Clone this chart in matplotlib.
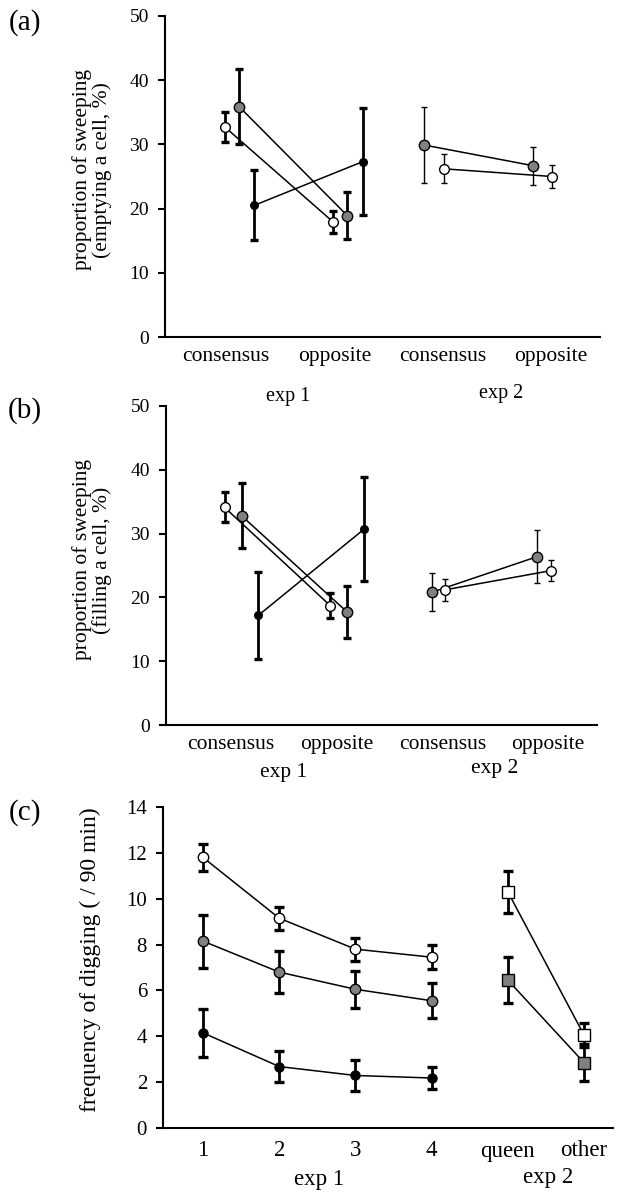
import matplotlib
matplotlib.use("Agg")
import matplotlib.pyplot as plt
import numpy as np

plt.rcParams['font.family'] = ['Liberation Serif', 'DejaVu Serif']

W, H = 618, 1193
DPI = 100

# ---------------- data ----------------
cats_ab = ["consensus", "opposite", "consensus", "opposite"]

# panel (a): emptying a cell
a_white_exp1 = [32.7, 17.9]; a_white_exp1_err = [2.3, 1.75]
a_gray_exp1 = [35.9, 18.9];  a_gray_exp1_err = [5.85, 3.65]
a_black_exp1 = [20.5, 27.3]; a_black_exp1_err = [5.45, 8.35]
a_gray_exp2 = [29.9, 26.7];  a_gray_exp2_err = [5.85, 2.95]
a_white_exp2 = [26.2, 25.0]; a_white_exp2_err = [2.25, 1.75]

# panel (b): filling a cell
b_white_exp1 = [34.1, 18.7]; b_white_exp1_err = [2.35, 1.95]
b_gray_exp1 = [32.8, 17.7];  b_gray_exp1_err = [5.1, 4.05]
b_black_exp1 = [17.2, 30.7]; b_black_exp1_err = [6.85, 8.2]
b_gray_exp2 = [20.8, 26.4];  b_gray_exp2_err = [3.0, 4.15]
b_white_exp2 = [21.2, 24.2]; b_white_exp2_err = [1.75, 1.65]

# panel (c): digging frequency
cats_c = ["1", "2", "3", "4", "queen", "other"]
c_white = [11.8, 9.15, 7.8, 7.45];  c_white_err = [0.6, 0.5, 0.5, 0.53]
c_gray = [8.15, 6.8, 6.05, 5.55];   c_gray_err = [1.16, 0.92, 0.81, 0.77]
c_black = [4.15, 2.68, 2.29, 2.18]; c_black_err = [1.05, 0.69, 0.69, 0.48]
c_sq_white = [10.3, 4.05]; c_sq_white_err = [0.93, 0.53]
c_sq_gray = [6.45, 2.85];  c_sq_gray_err = [1.0, 0.8]

GRAY = "#808080"

fig = plt.figure(figsize=(W / DPI, H / DPI), dpi=DPI)


def px_axes(x0, x1, ytop, ybot):
    return fig.add_axes([x0 / W, 1 - ybot / H, (x1 - x0) / W, (ybot - ytop) / H])


def ftext(x, y, s, **kw):
    fig.text(x / W, 1 - y / H, s, **kw)


def style(ax, ylim, yticks, ytick_fs, xtick_fs, xpad):
    for s in ["top", "right"]:
        ax.spines[s].set_visible(False)
    for s in ["left", "bottom"]:
        ax.spines[s].set_linewidth(1.5)
    ax.set_ylim(*ylim)
    ax.set_yticks(yticks)
    ax.tick_params(axis="y", direction="out", length=5, width=1.5, pad=6.5,
                   labelsize=ytick_fs)
    ax.tick_params(axis="x", length=0, pad=xpad, labelsize=xtick_fs)


def series(ax, x, y, err, face, ms, marker="o", elw=2.0, cs=2.6, ct=2.4):
    ax.plot(x, y, color="black", lw=1.1, zorder=2)
    ax.errorbar(x, y, yerr=err, fmt="none", ecolor="black", elinewidth=elw,
                capsize=cs, capthick=ct, zorder=3)
    ax.plot(x, y, linestyle="none", marker=marker, ms=ms, mfc=face,
            mec="black", mew=1.0, zorder=4)


# ---------------- panel (a) ----------------
axa = px_axes(165, 600, 16, 337)
pos = np.arange(1, 5)
style(axa, (0, 50), range(0, 51, 10), 14, 15.5, 7)
axa.set_xlim(0.437, 4.452)
axa.set_xticks(pos)
axa.set_xticklabels(cats_ab)
e1 = pos[:2]; e2 = pos[2:]
series(axa, e1 - 0.01, a_white_exp1, a_white_exp1_err, "white", 7)
series(axa, e1 + 0.12, a_gray_exp1, a_gray_exp1_err, GRAY, 7.5)
series(axa, e1 + 0.26, a_black_exp1, a_black_exp1_err, "black", 5.5)
series(axa, e2 - 0.17, a_gray_exp2, a_gray_exp2_err, GRAY, 7.5, elw=1.0, cs=2.2, ct=1.0)
series(axa, e2 + 0.01, a_white_exp2, a_white_exp2_err, "white", 7, elw=1.0, cs=2.2, ct=1.0)

# ---------------- panel (b) ----------------
axb = px_axes(166, 597, 406, 725)
style(axb, (0, 50), range(0, 51, 10), 14, 15.5, 7)
axb.set_xlim(0.385, 4.464)
axb.set_xticks(pos)
axb.set_xticklabels(cats_ab)
series(axb, e1 - 0.06, b_white_exp1, b_white_exp1_err, "white", 7)
series(axb, e1 + 0.10, b_gray_exp1, b_gray_exp1_err, GRAY, 7.5)
series(axb, e1 + 0.26, b_black_exp1, b_black_exp1_err, "black", 5.5)
series(axb, e2 - 0.10, b_gray_exp2, b_gray_exp2_err, GRAY, 7.5, elw=1.0, cs=2.2, ct=1.0)
series(axb, e2 + 0.03, b_white_exp2, b_white_exp2_err, "white", 7, elw=1.0, cs=2.2, ct=1.0)

# ---------------- panel (c) ----------------
axc = px_axes(163, 613, 807, 1128)
posc = np.arange(1, 7)
style(axc, (0, 14), range(0, 15, 2), 15, 16.5, 9)
axc.set_xlim(0.475, 6.38)
axc.set_xticks(posc)
axc.set_xticklabels(cats_c)
xe1 = posc[:4]; xe2 = posc[4:]
series(axc, xe1, c_white, c_white_err, "white", 7.5, elw=2.0, cs=3.4, ct=2.4)
series(axc, xe1, c_gray, c_gray_err, GRAY, 7.5, elw=2.0, cs=3.4, ct=2.4)
series(axc, xe1, c_black, c_black_err, "black", 6.5, elw=2.0, cs=3.4, ct=2.4)
series(axc, xe2, c_sq_white, c_sq_white_err, "white", 8, marker="s", elw=2.0, cs=3.4, ct=2.4)
series(axc, xe2, c_sq_gray, c_sq_gray_err, GRAY, 8, marker="s", elw=2.0, cs=3.4, ct=2.4)

# ---------------- texts ----------------
ftext(25, 23, "(a)", fontsize=21, ha="center", va="center")
ftext(25, 411, "(b)", fontsize=21, ha="center", va="center")
ftext(25, 813, "(c)", fontsize=21, ha="center", va="center")

ftext(92, 170, "proportion of sweeping\n(emptying a cell, %)", fontsize=15.5,
      rotation=90, ha="center", va="center", multialignment="center", linespacing=1.0)
ftext(92, 560, "proportion of sweeping\n(filling a cell, %)", fontsize=15.5,
      rotation=90, ha="center", va="center", multialignment="center", linespacing=1.0)
ftext(90, 960, "frequency of digging ( / 90 min)", fontsize=17,
      rotation=90, ha="center", va="center")

ftext(288, 397, "exp 1", fontsize=14.5, ha="center", va="center")
ftext(501, 393, "exp 2", fontsize=14.5, ha="center", va="center")
ftext(284, 772, "exp 1", fontsize=15.5, ha="center", va="center")
ftext(495, 769, "exp 2", fontsize=15.5, ha="center", va="center")
ftext(319, 1179, "exp 1", fontsize=16.5, ha="center", va="center")
ftext(548, 1178, "exp 2", fontsize=16.5, ha="center", va="center")

fig.savefig("out.png", dpi=DPI)
